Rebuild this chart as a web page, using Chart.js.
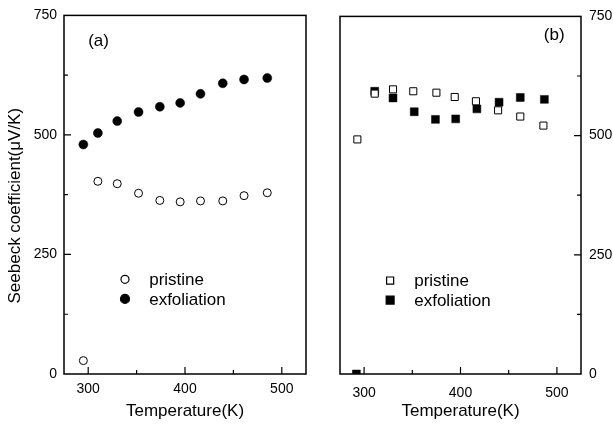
<!DOCTYPE html>
<html>
<head>
<meta charset="utf-8">
<script src="https://cdn.jsdelivr.net/npm/chart.js@4.4.0/dist/chart.umd.min.js"></script>
<style>
  body { margin: 0; background: #fff; }
  #wrapA { position: absolute; left: 0; top: 0; width: 320px; height: 425px; }
  #wrapB { position: absolute; left: 320px; top: 0; width: 293px; height: 425px; }
</style>
</head>
<body>
<div id="wrapA"><canvas id="chartA"></canvas></div>
<div id="wrapB"><canvas id="chartB"></canvas></div>
<script>
// panel (a): circles
const tempA = [295, 310, 330, 352, 374, 395, 416, 439, 461, 485];
const pristineA = [28, 403, 398, 378, 363, 360, 362, 362, 373, 379];
const exfolA = [480, 504, 529, 548, 559, 567, 586, 608, 616, 619];

// panel (b): squares
const tempB_pristine = [293, 311, 330, 351, 375, 394, 416, 439, 462, 486];
const pristineB = [492, 588, 597, 593, 590, 581, 572, 553, 540, 521];
const tempB_exfol = [292, 311, 330, 352, 374, 395, 417, 440, 462, 487];
const exfolB = [0, 593, 579, 550, 534, 535, 556, 570, 580, 576];

const xMajor = [300, 400, 500];
const yMajor = [0, 250, 500, 750];
const seriesNames = ['pristine', 'exfoliation'];
const yTitle = 'Seebeck coefficient(\u03bcV/K)';

const FONT = 'Liberation Sans, Arial, sans-serif';
Chart.defaults.font.family = FONT;
Chart.defaults.color = '#000';

function pts(xs, ys) {
  return xs.map((x, i) => ({ x: x, y: ys[i] }));
}

// box frame, inward ticks, legend and panel letter
function framePlugin(opts) {
  return {
    id: 'frame' + opts.letter,
    afterDatasetsDraw(chart) {
      const ctx = chart.ctx;
      const a = chart.chartArea;
      const xs = chart.scales.x, ys = chart.scales.y;
      ctx.save();
      ctx.strokeStyle = '#000';
      ctx.lineWidth = 1.5;
      ctx.strokeRect(a.left, a.top, a.right - a.left, a.bottom - a.top);

      ctx.lineWidth = 1.2;
      ctx.beginPath();
      xs.ticks.forEach(t => {
        if (t.value % 50 !== 0) return;
        const len = xMajor.includes(t.value) ? 7 : 4;
        const px = xs.getPixelForValue(t.value);
        ctx.moveTo(px, a.bottom);
        ctx.lineTo(px, a.bottom - len);
      });
      ys.ticks.forEach(t => {
        if (t.value % 125 !== 0 || t.value === 0 || t.value === 750) return;
        const len = yMajor.includes(t.value) ? 7 : 4;
        const py = ys.getPixelForValue(t.value);
        if (opts.side === 'left') {
          ctx.moveTo(a.left, py); ctx.lineTo(a.left + len, py);
        } else {
          ctx.moveTo(a.right, py); ctx.lineTo(a.right - len, py);
        }
      });
      ctx.stroke();

      // legend
      ctx.font = '17px ' + FONT;
      ctx.textBaseline = 'middle';
      ctx.textAlign = 'left';
      chart.data.datasets.forEach((ds, i) => {
        const mx = xs.getPixelForValue(opts.legendX);
        const my = ys.getPixelForValue(opts.legendY[i]);
        ctx.fillStyle = ds.pointBackgroundColor;
        ctx.strokeStyle = ds.pointBorderColor;
        Chart.helpers.drawPoint(ctx, {
          pointStyle: ds.pointStyle,
          radius: ds.pointRadius,
          borderWidth: ds.pointBorderWidth,
          rotation: 0
        }, mx, my);
        ctx.fillStyle = '#000';
        ctx.fillText(ds.label, xs.getPixelForValue(opts.textX), my + 1);
      });

      // panel letter
      ctx.textAlign = opts.letterAlign;
      ctx.fillText(opts.letter, xs.getPixelForValue(opts.letterX), ys.getPixelForValue(opts.letterY));

      // y title (sits a bit below the axis centre in the original)
      if (opts.side === 'left') {
        ctx.translate(15, ys.getPixelForValue(352));
        ctx.rotate(-Math.PI / 2);
        ctx.textAlign = 'center';
        ctx.fillText(yTitle, 0, 0);
      }
      ctx.restore();
    }
  };
}

function xScale(pad) {
  return {
    type: 'linear', min: 275, max: 525,
    afterFit: s => { s.height = 51; },
    afterBuildTicks: s => { s.ticks = [275, 300, 350, 400, 450, 500, 525].map(v => ({ value: v })); },
    ticks: {
      autoSkip: false, maxRotation: 0, padding: pad,
      font: { size: 14 }, color: '#000',
      callback: v => xMajor.includes(v) ? v : ''
    },
    grid: { display: false, drawTicks: false },
    border: { display: false },
    title: { display: true, text: 'Temperature(K)', font: { size: 17 }, color: '#000', padding: { top: 0, bottom: 3 } }
  };
}

function yScale(pos, width, pad) {
  return {
    type: 'linear', position: pos, min: 0, max: 750,
    afterFit: s => { s.width = width; },
    afterBuildTicks: s => { s.ticks = [0, 125, 250, 375, 500, 625, 750].map(v => ({ value: v })); },
    ticks: {
      autoSkip: false, padding: pad,
      font: { size: 14 }, color: '#000',
      callback: v => yMajor.includes(v) ? v : ''
    },
    grid: { display: false, drawTicks: false },
    border: { display: false }
  };
}

new Chart(document.getElementById('chartA'), {
  type: 'scatter',
  data: {
    datasets: [
      { label: seriesNames[0], data: pts(tempA, pristineA), pointStyle: 'circle', pointRadius: 4,
        pointBorderWidth: 1, pointBorderColor: '#000', pointBackgroundColor: '#fff' },
      { label: seriesNames[1], data: pts(tempA, exfolA), pointStyle: 'circle', pointRadius: 4.5,
        pointBorderWidth: 0.5, pointBorderColor: '#000', pointBackgroundColor: '#000' }
    ]
  },
  options: {
    responsive: true, maintainAspectRatio: false, animation: false,
    layout: { padding: { top: 13, right: 14, left: 0, bottom: 0 } },
    scales: {
      x: xScale(7),
      y: yScale('left', 64, 7)
    },
    plugins: { legend: { display: false }, tooltip: { enabled: false } }
  },
  plugins: [framePlugin({ letter: '(a)', side: 'left', legendX: 338, textX: 363, legendY: [198, 157],
    letterX: 300, letterY: 695, letterAlign: 'left' })]
});

new Chart(document.getElementById('chartB'), {
  type: 'scatter',
  data: {
    datasets: [
      { label: seriesNames[0], data: pts(tempB_pristine, pristineB), pointStyle: 'rect', pointRadius: 5,
        pointBorderWidth: 1, pointBorderColor: '#000', pointBackgroundColor: '#fff' },
      { label: seriesNames[1], data: pts(tempB_exfol, exfolB), pointStyle: 'rect', pointRadius: 5.6,
        pointBorderWidth: 0.5, pointBorderColor: '#000', pointBackgroundColor: '#000' }
    ]
  },
  options: {
    responsive: true, maintainAspectRatio: false, animation: false,
    layout: { padding: { top: 13, right: 0, left: 20, bottom: 0 } },
    scales: {
      x: xScale(11),
      y: yScale('right', 32, 8)
    },
    plugins: { legend: { display: false }, tooltip: { enabled: false } }
  },
  plugins: [framePlugin({ letter: '(b)', side: 'right', legendX: 327, textX: 352, legendY: [196, 155],
    letterX: 508, letterY: 710, letterAlign: 'right' })]
});
</script>
</body>
</html>
